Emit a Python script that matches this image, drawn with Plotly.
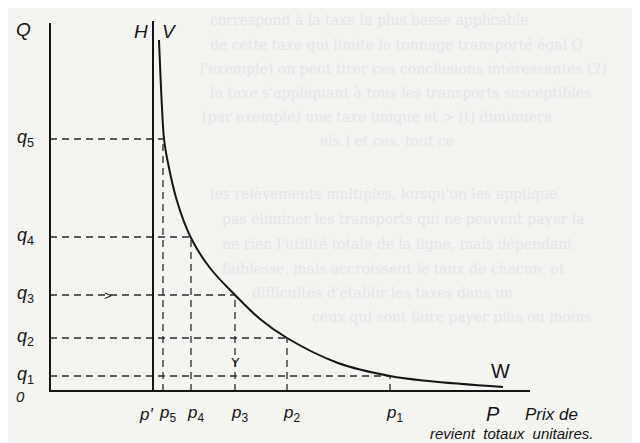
import plotly.graph_objects as go

# ---- data (chart units: price p to the right, quantity q upward) ----
curve_p = [109, 112, 114, 117, 127, 141, 160, 185, 210, 237, 288, 340, 378, 453]
curve_q = [351, 283, 252, 233, 190, 153, 123, 96, 72, 53, 28, 15, 10, 4]

q_names = ["1", "2", "3", "4", "5"]
q_vals = [15, 53, 96, 154, 252]
p_vals = [340, 237, 185, 141, 113]
p_prime = 103
axis_q_max = 368
axis_p_max = 480
H_top = 370

INK = "#151515"
DASH = "#2a2a33"
BG = "#f4f4f1"
FONT = "Liberation Sans"

fig = go.Figure()

# dashed guide lines
for qv, pv in zip(q_vals, p_vals):
    fig.add_trace(go.Scatter(x=[0, pv], y=[qv, qv], mode="lines",
                             line=dict(color=DASH, width=1.3, dash="7px,5px"),
                             hoverinfo="skip", showlegend=False))
    fig.add_trace(go.Scatter(x=[pv, pv], y=[0, qv], mode="lines",
                             line=dict(color=DASH, width=1.3, dash="7px,5px"),
                             hoverinfo="skip", showlegend=False))

# axes and H line
fig.add_trace(go.Scatter(x=[0, 0, axis_p_max], y=[axis_q_max, 0, 0], mode="lines",
                         line=dict(color=INK, width=2), hoverinfo="skip", showlegend=False))
fig.add_trace(go.Scatter(x=[p_prime, p_prime], y=[0, H_top], mode="lines",
                         line=dict(color=INK, width=2), hoverinfo="skip", showlegend=False))

# demand curve V-W
fig.add_trace(go.Scatter(x=curve_p, y=curve_q, mode="lines",
                         line=dict(color=INK, width=2, shape="spline", smoothing=1.0),
                         hoverinfo="skip", showlegend=False))

ann = []
def label(x, y, text, size=15, xanchor="center", yanchor="middle", color=INK):
    ann.append(dict(x=x, y=y, xref="x", yref="y", text=text, showarrow=False,
                    xanchor=xanchor, yanchor=yanchor,
                    font=dict(family=FONT, size=size, color=color)))

# faint print-through text from the other side of the page
ghost = [
    (158, 371, "correspond à la taxe la plus basse applicable"),
    (158, 346, "de cette taxe qui limite le tonnage transporté égal Q"),
    (148, 322, "l'exemple) on peut tirer ces conclusions intéressantes (2)"),
    (158, 298, "la taxe s'appliquant à tous les transports susceptibles"),
    (150, 274, "(par exemple) une taxe unique et > (t) diminuera"),
    (268, 250, "els.) et ces, tout ce"),
    (158, 197, "les relèvements multiples, lorsqu'on les applique"),
    (170, 172, "pas éliminer les transports qui ne peuvent payer la"),
    (170, 147, "ne rien l'utilité totale de la ligne, mais dépendant"),
    (170, 122, "faiblesse, mais accroissent le taux de chacun, et"),
    (200, 98, "difficultés d'établir les taxes dans un"),
    (260, 74, "ceux qui sont faire payer plus ou moins"),
]
for gx, gy, gt in ghost:
    label(gx, gy, gt, 14, xanchor="left", color="#e4e6ed")
ann = [dict(a, font=dict(family="DejaVu Serif", size=14, color="#e4e6ed")) for a in ann]

label(-27, 362, "<i>Q</i>", 19)
label(p_prime - 12, 360, "<i>H</i>", 19)
label(p_prime + 16, 360, "<i>V</i>", 19)
label(-30, -5, "<i>0</i>", 15)
for name, qv in zip(q_names, q_vals):
    label(-25, qv + 1, "<i>q</i><sub>%s</sub>" % name, 18)
label(p_prime - 7, -23, "<i>p'</i>", 17)
for name, pv in zip(q_names, p_vals):
    label(pv + 4, -23, "<i>p</i><sub>%s</sub>" % name, 17)
label(450, 20, "W", 20)
label(443, -23, "<i>P</i>", 20)
label(473, -23, "<i>Prix de</i>", 17, xanchor="left")
label(378, -42, "<i>revient  totaux  unitaires.</i>", 15, xanchor="left")
# direction marks
label(58, 96, ">", 13)
label(185, 29, "Y", 13)

fig.update_layout(
    annotations=ann,
    width=640, height=443,
    margin=dict(l=0, r=0, t=0, b=0),
    paper_bgcolor=BG, plot_bgcolor=BG,
    xaxis=dict(range=[-42, 598], visible=False, fixedrange=True),
    yaxis=dict(range=[-60, 383], visible=False, fixedrange=True),
    showlegend=False,
)

fig.write_html("out.html")
